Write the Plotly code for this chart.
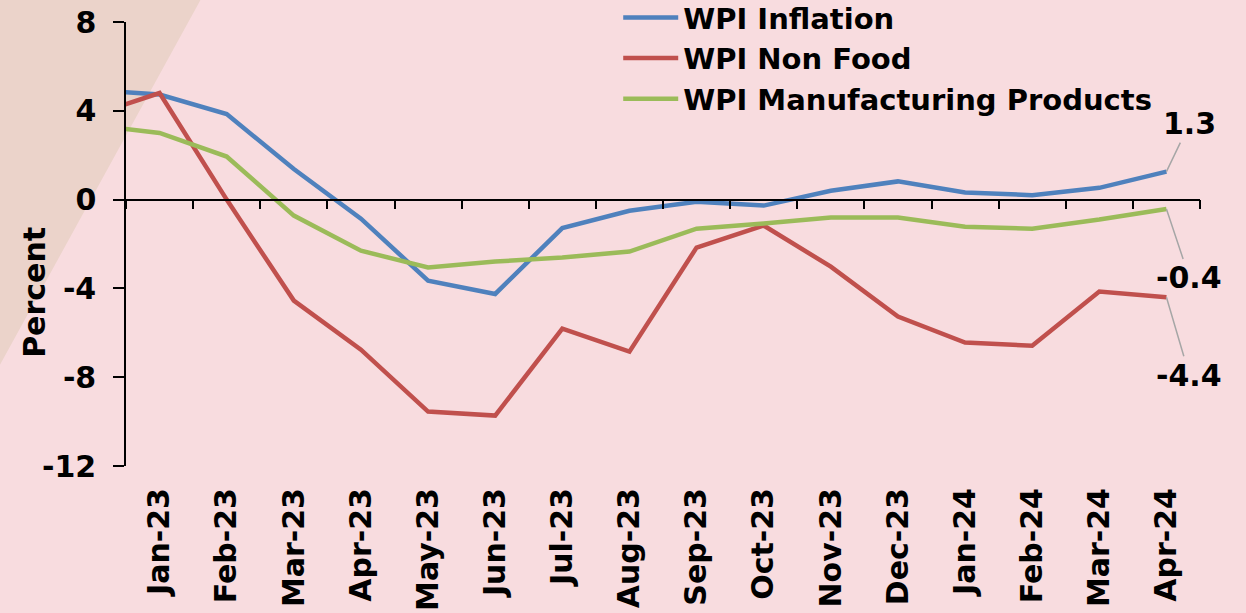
import plotly.graph_objects as go

months = ["Dec-22", "Jan-23", "Feb-23", "Mar-23", "Apr-23", "May-23", "Jun-23", "Jul-23",
          "Aug-23", "Sep-23", "Oct-23", "Nov-23", "Dec-23", "Jan-24", "Feb-24", "Mar-24", "Apr-24"]
wpi_inflation = [4.95, 4.73, 3.85, 1.38, -0.86, -3.65, -4.25, -1.28, -0.5, -0.1, -0.27, 0.4,
                 0.82, 0.32, 0.2, 0.53, 1.26]
wpi_non_food = [3.8, 4.8, 0.0, -4.55, -6.76, -9.55, -9.73, -5.81, -6.85, -2.16, -1.17, -3.02,
                -5.27, -6.44, -6.58, -4.14, -4.4]
wpi_manuf = [3.37, 3.0, 1.94, -0.72, -2.3, -3.06, -2.79, -2.61, -2.34, -1.31, -1.08, -0.81,
             -0.81, -1.22, -1.31, -0.9, -0.42]
y_ticks = [-12, -8, -4, 0, 4, 8]
y_tick_labels = [str(v) for v in y_ticks]

series = [
    ("WPI Inflation", wpi_inflation, "#4F81BD"),
    ("WPI Non Food", wpi_non_food, "#C0504D"),
    ("WPI Manufacturing Products", wpi_manuf, "#9BBB59"),
]

FONT = "DejaVu Sans"
FS = 30
fig = go.Figure()
for name, vals, col in series:
    fig.add_trace(go.Scatter(x=months, y=vals, name=name, mode="lines",
                             line=dict(color=col, width=4.5)))
# helper trace for the zero-line axis
fig.add_trace(go.Scatter(x=months, y=[None] * len(months), xaxis="x2", showlegend=False,
                         hoverinfo="skip", mode="lines"))

xr = [0.5, len(months) - 0.5]
fig.update_layout(
    width=1246, height=613,
    margin=dict(l=126, r=46, t=22, b=147, autoexpand=False),
    paper_bgcolor="#F8DCDF",
    plot_bgcolor="rgba(0,0,0,0)",
    font=dict(family=FONT, color="black"),
    showlegend=True,
    legend=dict(x=0.4583, y=1.0675, xanchor="left", yanchor="top", bgcolor="rgba(0,0,0,0)",
                font=dict(size=FS - 1, family=FONT, weight="bold"), itemwidth=55, tracegroupgap=0),
    xaxis=dict(type="category", categoryorder="array", categoryarray=months, range=xr,
               showline=False, showgrid=False, zeroline=False, ticks="", automargin=False,
               tickangle=-90, ticklabelstandoff=15,
               tickfont=dict(size=FS, family=FONT, weight="bold")),
    xaxis2=dict(type="category", categoryorder="array", categoryarray=months, range=xr,
                overlaying="x", anchor="free", position=0.6, side="bottom", automargin=False,
                showline=True, linecolor="black", linewidth=1.5, showgrid=False, zeroline=False,
                ticks="outside", ticklen=9, tickwidth=1.5, tickcolor="black",
                tickson="boundaries", showticklabels=False),
    yaxis=dict(range=[-12, 8], tickvals=y_ticks, ticktext=y_tick_labels, automargin=False,
               showgrid=False, zeroline=False,
               showline=True, linecolor="black", linewidth=1.5,
               ticks="outside", ticklen=11, tickwidth=1.5, tickcolor="black",
               ticklabelstandoff=11,
               tickfont=dict(size=FS, family=FONT, weight="bold")),
)

# decorative diagonal band top-left
fig.add_shape(type="path", xref="paper", yref="paper", layer="below",
              path="M -0.12 1.06 L 0.0717 1.06 L -0.12 0.216 Z",
              fillcolor="#EBD3CA", line=dict(width=0))

fig.add_annotation(text="Percent", xref="paper", yref="paper", x=-0.0847, y=0.39,
                   xanchor="center", yanchor="middle",
                   textangle=-90, showarrow=False,
                   font=dict(size=FS, family=FONT, weight="bold"))

offsets = [(23, -48), (23, 78), (23, 69)]
for (name, vals, col), (ax, ay) in zip(series, offsets):
    fig.add_annotation(x=months[-1], y=vals[-1], text=f"{vals[-1]:.1f}", showarrow=True,
                       ax=ax, ay=ay, arrowhead=0, arrowwidth=1.5, arrowcolor="#A6A6A6",
                       standoff=0, font=dict(size=FS, family=FONT, weight="bold"))

post = ("document.body.style.margin='0';document.body.style.overflow='hidden';"
        "var gd=document.getElementById('{plot_id}');gd.style.position='fixed';"
        "gd.style.top='0';gd.style.left='0';")
fig.write_html("out.html", post_script=post, config={"displayModeBar": False})
